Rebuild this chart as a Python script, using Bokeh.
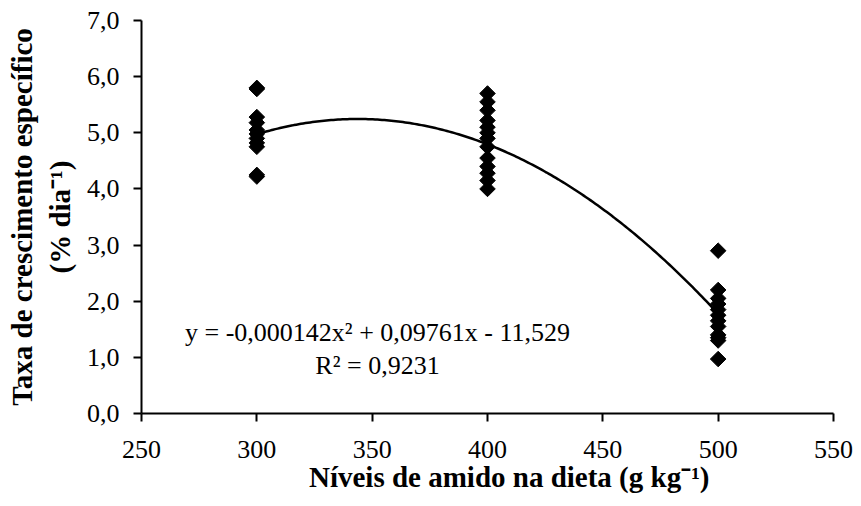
import math
import numpy as np
from bokeh.plotting import figure
from bokeh.models import Range1d, FixedTicker, Label
from bokeh.embed import file_html
from bokeh.resources import INLINE

# Specific growth rate per dietary starch level (g/kg)
levels = [300, 400, 500]
rate_300 = [5.80, 5.78, 5.28, 5.18, 5.05, 4.98, 4.90, 4.82, 4.75, 4.25, 4.22]
rate_400 = [5.70, 5.55, 5.40, 5.22, 5.10, 5.00, 4.90, 4.75, 4.55, 4.40, 4.28, 4.15, 4.00]
rate_500 = [2.90, 2.20, 2.05, 1.95, 1.85, 1.75, 1.65, 1.55, 1.40, 1.35, 1.30, 0.97]

# Quadratic fit: y = a x^2 + b x + c
coef_a, coef_b, coef_c = -0.000142, 0.09761, -11.529
r_squared = "0,9231"

x_ticks = [250, 300, 350, 400, 450, 500, 550]
y_ticks = [0, 1, 2, 3, 4, 5, 6, 7]
y_tick_labels = ["0,0", "1,0", "2,0", "3,0", "4,0", "5,0", "6,0", "7,0"]

FONT = "Liberation Serif"
W, H = 861, 506
LEFT, RIGHT, TOP, BOTTOM = 141, 28, 20, 93
X0, X1, Y0, Y1 = 250, 550, 0, 7

p = figure(width=W, height=H, output_backend="svg", toolbar_location=None,
           x_range=Range1d(X0, X1), y_range=Range1d(Y0, Y1),
           min_border_left=LEFT, min_border_right=RIGHT,
           min_border_top=TOP, min_border_bottom=BOTTOM)
p.outline_line_color = None
p.grid.visible = False
p.background_fill_color = "white"
p.border_fill_color = "white"

fw = W - LEFT - RIGHT
fh = H - TOP - BOTTOM
def sx(px):
    return X0 + (px - LEFT) / fw * (X1 - X0)
def sy(py):
    return Y0 + (H - BOTTOM - py) / fh * (Y1 - Y0)

for ax in (p.xaxis[0], p.yaxis[0]):
    ax.axis_line_color = "black"
    ax.axis_line_width = 2
    ax.major_tick_line_color = "black"
    ax.major_tick_line_width = 2
    ax.major_tick_in = 0
    ax.major_tick_out = 8
    ax.minor_tick_line_color = None
    ax.major_label_text_font = FONT
    ax.major_label_text_font_size = "26px"
    ax.major_label_text_color = "black"
    ax.axis_label_text_font = FONT
    ax.axis_label_text_font_size = "29px"
    ax.axis_label_text_font_style = "bold"
    ax.axis_label_text_color = "black"

p.xaxis[0].ticker = FixedTicker(ticks=x_ticks)
p.xaxis[0].major_label_standoff = 19
p.xaxis[0].axis_label = "\u2002\u2002\u2002Níveis de amido na dieta (g kg⁻¹)"
p.xaxis[0].axis_label_standoff = 0

p.yaxis[0].ticker = FixedTicker(ticks=y_ticks)
p.yaxis[0].major_label_overrides = {t: s for t, s in zip(y_ticks, y_tick_labels)}
p.yaxis[0].major_label_standoff = 14
p.yaxis[0].axis_label = "Taxa de crescimento específico\n(% dia⁻¹)"
p.yaxis[0].axis_label_standoff = 8

# observations
for lv, vals in zip(levels, [rate_300, rate_400, rate_500]):
    p.scatter([lv] * len(vals), vals, marker="square", angle=math.pi / 4,
              size=11, fill_color="black", line_color="black")

# fitted curve
xs = np.linspace(levels[0], levels[-1], 200)
ys = coef_a * xs ** 2 + coef_b * xs + coef_c
p.line(xs, ys, line_color="black", line_width=2.5)

def lab(px, py, text, size, align="center"):
    p.add_layout(Label(x=sx(px), y=sy(py), text=text, text_font=FONT,
                       text_font_size=size, text_align=align,
                       text_baseline="middle", text_color="black"))

# equation and R²
lab(377, 332, "y = -0,000142x² + 0,09761x - 11,529", "26px")
lab(377, 365, "R² = " + r_squared, "26px")

open("out.html", "w").write(file_html(p, INLINE))
